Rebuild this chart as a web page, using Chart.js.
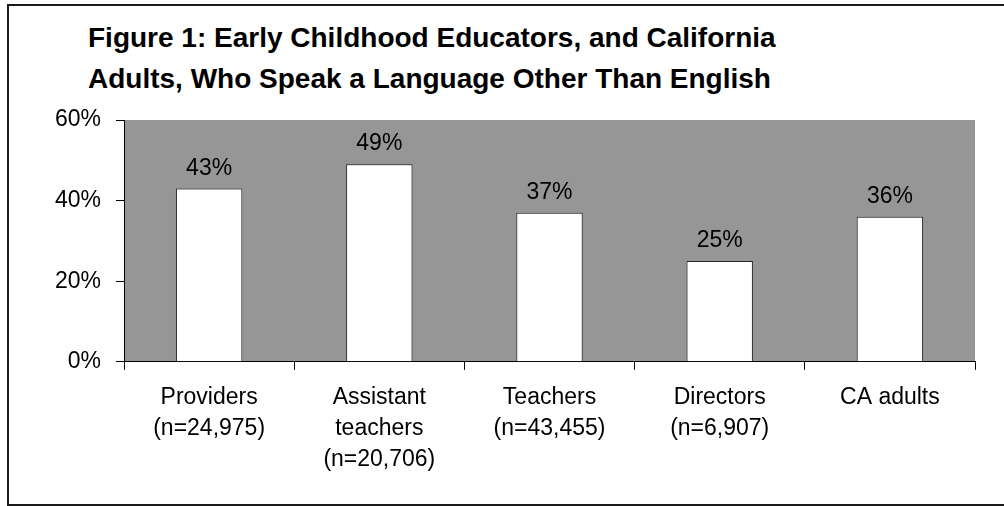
<!DOCTYPE html>
<html>
<head>
<meta charset="utf-8">
<script src="https://cdn.jsdelivr.net/npm/chart.js@4"></script>
<style>
  html, body { margin: 0; padding: 0; background: #fff; overflow: hidden; }
  #wrap { position: relative; width: 1004px; height: 506px; }
  #frame {
    position: absolute; left: 7px; top: 4px; width: 1010px; height: 502px;
    border: 2px solid #1a1a1a; box-sizing: border-box;
  }
  #title {
    position: absolute; left: 88px; top: 17px;
    font: bold 28px "Liberation Sans", Arial, sans-serif; line-height: 41px; color: #000;
  }
  canvas { position: absolute; left: 0; top: 0; }
</style>
</head>
<body>
<div id="wrap">
  <div id="frame"></div>
  <div id="title">Figure 1: Early Childhood Educators, and California<br>Adults, Who Speak a Language Other Than English</div>
  <canvas id="barChart" width="1004" height="506"></canvas>
</div>
<script>
"use strict"

// data
const categories = [
    ['Providers', '(n=24,975)'],
    ['Assistant', 'teachers', '(n=20,706)'],
    ['Teachers', '(n=43,455)'],
    ['Directors', '(n=6,907)'],
    ['CA adults']
];
const shares = [43, 49, 37, 25, 36];
const yTicks = [0, 20, 40, 60];

const fontFamily = '"Liberation Sans", Arial, sans-serif';

// grey plot area behind the bars
const plotBackground = {
    id: 'plotBackground',
    beforeDraw(chart) {
        const { ctx, chartArea } = chart;
        ctx.save();
        ctx.fillStyle = '#969696';
        ctx.fillRect(chartArea.left, chartArea.top, chartArea.right - chartArea.left, chartArea.bottom - chartArea.top);
        ctx.restore();
    }
};

// percent labels above each bar
const valueLabels = {
    id: 'valueLabels',
    afterDatasetsDraw(chart) {
        const { ctx } = chart;
        const meta = chart.getDatasetMeta(0);
        ctx.save();
        ctx.font = '23px ' + fontFamily;
        ctx.fillStyle = '#000';
        ctx.textAlign = 'center';
        ctx.textBaseline = 'alphabetic';
        meta.data.forEach((bar, i) => {
            ctx.fillText(shares[i] + '%', bar.x, bar.y - 14);
        });
        ctx.restore();
    }
};

new Chart(
    document.getElementById('barChart'),
    {
        type: 'bar',
        data: {
            labels: categories,
            datasets: [
                {
                    label: 'Speak a language other than English',
                    data: shares,
                    backgroundColor: '#ffffff',
                    borderColor: '#222222',
                    borderWidth: 1,
                    categoryPercentage: 1,
                    barPercentage: 0.39
                }
            ]
        },
        options: {
            responsive: false,
            animation: false,
            layout: { padding: { left: 40, top: 120, right: 29, bottom: 19 } },
            plugins: {
                legend: { display: false },
                title: { display: false },
                tooltip: { enabled: false }
            },
            scales: {
                x: {
                    grid: { offset: true, drawOnChartArea: false, drawTicks: true, tickLength: 8, color: '#000' },
                    border: { display: true, color: '#000', width: 1 },
                    ticks: {
                        color: '#000',
                        padding: 12,
                        maxRotation: 0,
                        autoSkip: false,
                        font: { family: fontFamily, size: 23, lineHeight: 1.35 }
                    }
                },
                y: {
                    min: yTicks[0],
                    max: yTicks[yTicks.length - 1],
                    afterBuildTicks(scale) {
                        scale.ticks = yTicks.map(v => ({ value: v }));
                    },
                    grid: { drawOnChartArea: false, drawTicks: true, tickLength: 8, color: '#000' },
                    border: { display: true, color: '#000', width: 1 },
                    ticks: {
                        color: '#000',
                        padding: 15,
                        callback: v => v + '%',
                        font: { family: fontFamily, size: 23 }
                    }
                }
            }
        },
        plugins: [plotBackground, valueLabels]
    }
);
</script>
</body>
</html>
